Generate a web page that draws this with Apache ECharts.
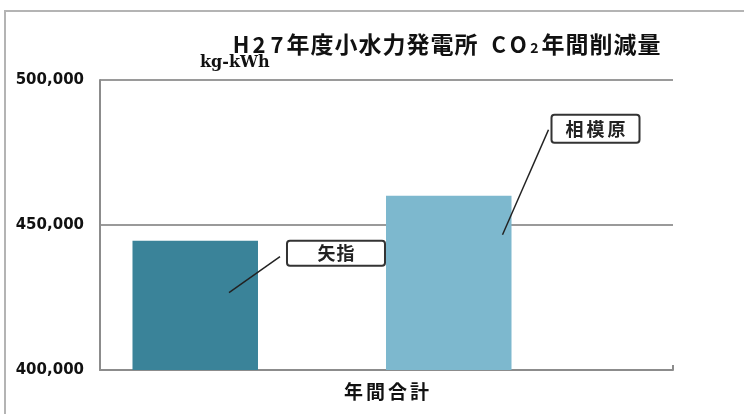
<!DOCTYPE html>
<html>
<head>
<meta charset="utf-8">
<script src="https://cdn.jsdelivr.net/npm/echarts@6/dist/echarts.min.js"></script>
<style>
  html, body { margin: 0; padding: 0; background: #fff; }
  #chart { width: 744px; height: 414px; }
</style>
</head>
<body>
<div id="chart"></div>
<script>
// Annual CO2 reduction of the small hydro power stations, fiscal H27
const categories = ['年間合計'];
const stations = ['矢指', '相模原'];
const reduction = [444600, 460100];           // kg-kWh
const yTicks = { min: 400000, max: 500000, step: 50000 };
const unitLabel = 'kg-kWh';
const titleParts = [
  ['H27', 'w'], ['年度小水力発電所', 'k'], [' ', 'sp'], ['CO', 'co'], ['2', 'sub'], ['年間削減量', 'k']
];

const stationColors = ['#3a8399', '#7db8ce'];

// bar geometry: two station bars plus a narrow empty slot on the right
const BAR_WIDTH = 125.5;
const BAR_GAP = 1.02;
const SPACER_WIDTH = 1;
const slotWidths = [BAR_WIDTH, BAR_WIDTH, SPACER_WIDTH];

function barCenterOffset(i) {
  let sum = 0;
  slotWidths.forEach(w => { sum += w * (1 + BAR_GAP); });
  sum -= slotWidths[slotWidths.length - 1] * BAR_GAP;
  let off = -sum / 2;
  for (let k = 0; k < i; k++) off += slotWidths[k] * (1 + BAR_GAP);
  return off + slotWidths[i] / 2;
}

// callout placement relative to each bar's top-right corner (px)
const calloutLayout = [
  { anchor: [-29, 52], start: [22, 16], box: [29, 0, 98, 25], cell: 19 },
  { anchor: [-9, 39], start: [37, -66], box: [40, -81, 88, 28], cell: 21 }
];

function spaced(text, style) {
  return Array.from(text).map(ch => '{' + style + '|' + ch + '}').join('');
}

const CJK = '"Noto Sans CJK JP", sans-serif';
const titleRich = {
  k:   { fontFamily: CJK, fontSize: 23, fontWeight: 'bold', color: '#111', width: 24, align: 'center' },
  w:   { fontFamily: CJK, fontSize: 22, fontWeight: 'bold', color: '#111', width: 18, align: 'center' },
  co:  { fontFamily: CJK, fontSize: 22, fontWeight: 'bold', color: '#111', width: 19.5, align: 'center' },
  sub: { fontFamily: CJK, fontSize: 14, fontWeight: 'bold', color: '#111', width: 13, align: 'center', padding: [7, 0, 0, 0] },
  sp:  { fontFamily: CJK, fontSize: 22, width: 11 }
};
const titleText = titleParts.map(p => spaced(p[0], p[1])).join('');

const chart = echarts.init(document.getElementById('chart'), null, { renderer: 'canvas' });

const barSeries = stations.map((name, i) => ({
  name: name,
  type: 'bar',
  data: [reduction[i]],
  barWidth: BAR_WIDTH,
  barGap: (BAR_GAP * 100) + '%',
  itemStyle: { color: stationColors[i] },
  z: 2
}));
barSeries.push({
  name: 'slot',
  type: 'bar',
  data: [null],
  barWidth: SPACER_WIDTH,
  barGap: (BAR_GAP * 100) + '%',
  silent: true
});

const calloutSeries = {
  type: 'custom',
  data: stations.map((name, i) => [0, reduction[i], i]),
  encode: { x: 0, y: 1 },
  z: 5,
  silent: true,
  renderItem: function (params, api) {
    const i = api.value(2);
    const top = api.coord([api.value(0), api.value(1)]);
    const right = top[0] + barCenterOffset(i) + BAR_WIDTH / 2;
    const y0 = top[1];
    const L = calloutLayout[i];
    return {
      type: 'group',
      children: [
        {
          type: 'line',
          shape: { x1: right + L.start[0], y1: y0 + L.start[1], x2: right + L.anchor[0], y2: y0 + L.anchor[1] },
          style: { stroke: '#222', lineWidth: 1.5 }
        },
        {
          type: 'rect',
          shape: { x: right + L.box[0], y: y0 + L.box[1], width: L.box[2], height: L.box[3], r: 3 },
          style: { fill: '#fff', stroke: '#333', lineWidth: 2 }
        },
        {
          type: 'text',
          x: right + L.box[0] + L.box[2] / 2,
          y: y0 + L.box[1] + L.box[3] / 2,
          style: {
            text: spaced(stations[i], 'c'),
            align: 'center',
            verticalAlign: 'middle',
            rich: {
              c: { fontFamily: CJK, fontSize: 18, fontWeight: 'bold', fill: '#222', width: L.cell, align: 'center' }
            }
          }
        }
      ]
    };
  }
};

chart.setOption({
  animation: false,
  backgroundColor: '#fff',
  title: {
    text: titleText,
    left: 227,
    top: 28,
    textStyle: { rich: titleRich }
  },
  graphic: [{
    type: 'rect',
    shape: { x: 5, y: 11, width: 800, height: 500 },
    style: { fill: 'none', stroke: '#b4b4b4', lineWidth: 2 },
    silent: true,
    z: -1
  }],
  grid: { left: 100, right: 71, top: 80, bottom: 44, containLabel: false, outerBoundsMode: 'none' },
  xAxis: {
    type: 'category',
    data: categories,
    axisLine: { lineStyle: { color: '#8c8c8c', width: 2 } },
    axisTick: { show: true, inside: true, length: 5, lineStyle: { color: '#8c8c8c', width: 2 } },
    axisLabel: {
      margin: 12,
      formatter: v => spaced(v, 'c'),
      rich: { c: { fontFamily: CJK, fontSize: 19, fontWeight: 'bold', color: '#111', width: 22, align: 'center' } }
    },
    splitLine: { show: false }
  },
  yAxis: {
    type: 'value',
    min: yTicks.min,
    max: yTicks.max,
    interval: yTicks.step,
    name: unitLabel,
    nameLocation: 'end',
    nameGap: 9,
    nameTextStyle: {
      fontFamily: '"DejaVu Serif", serif', fontWeight: 'bold', fontSize: 16, color: '#111',
      align: 'left', padding: [0, 0, 0, 100]
    },
    axisLine: { show: true, lineStyle: { color: '#8c8c8c', width: 2 } },
    axisTick: { show: false },
    axisLabel: {
      margin: 16,
      fontFamily: '"DejaVu Sans", sans-serif',
      fontWeight: 'bold',
      fontSize: 15,
      color: '#111',
      formatter: v => v.toLocaleString('en-US')
    },
    splitLine: { lineStyle: { color: '#9a9a9a', width: 2 } }
  },
  series: barSeries.concat([calloutSeries])
});
</script>
</body>
</html>
